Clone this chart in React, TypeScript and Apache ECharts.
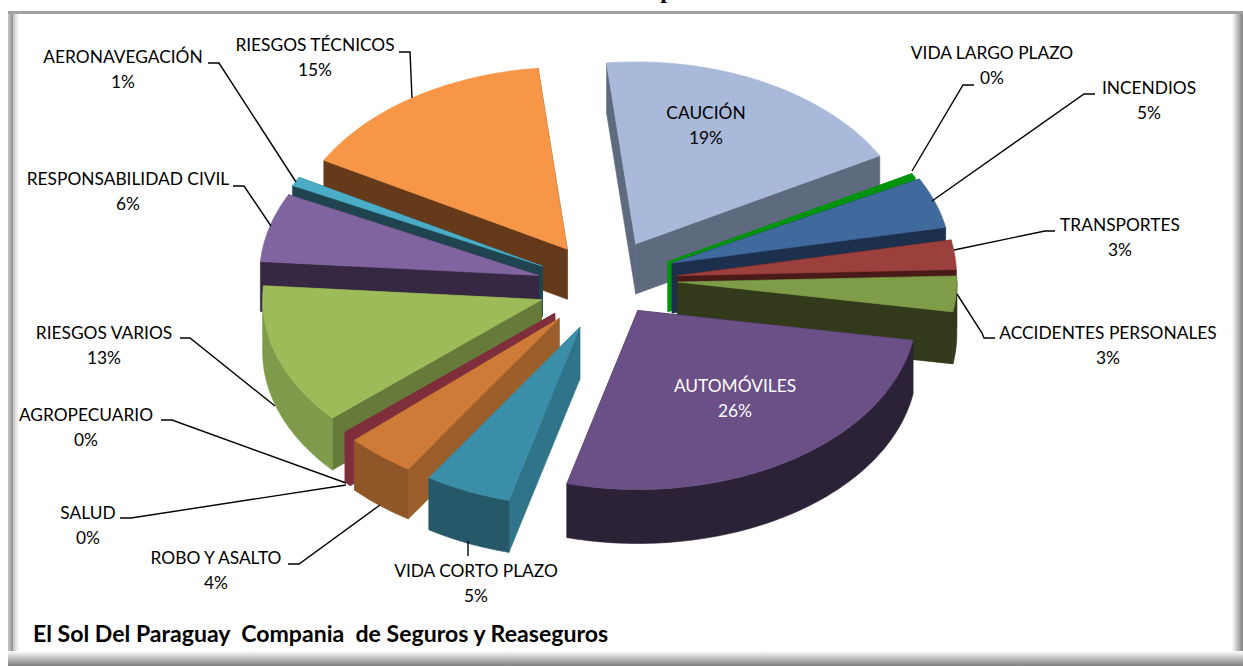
import React, { useEffect, useRef } from "react";
import * as echarts from "echarts";

const categories = [
  "CAUCIÓN", "VIDA LARGO PLAZO", "INCENDIOS", "TRANSPORTES", "ACCIDENTES PERSONALES",
  "AUTOMÓVILES", "VIDA CORTO PLAZO", "ROBO Y ASALTO", "SALUD", "AGROPECUARIO",
  "RIESGOS VARIOS", "RESPONSABILIDAD CIVIL", "AERONAVEGACIÓN", "RIESGOS TÉCNICOS",
];
const shares = [18.6, 0.4, 4.5, 2.6, 3.2, 26.4, 5, 4, 0.2, 0.2, 12.7, 6.1, 0.8, 15.2];

const topColors = ["#A9B9D9", "#00930C", "#40699D", "#9C403D", "#7F9C49", "#6A5086", "#3A8EA7", "#CF7A37", "#7F2F3B", "#7F2F3B", "#9DBC59", "#8064A0", "#4AACC6", "#F79646"];
const sideColors = ["#5E6A7E", "#00930C", "#1C2F4C", "#4A1A19", "#33391B", "#2C2238", "#2F7489", "#9C5F2B", "#7F2F3B", "#7F2F3B", "#667B39", "#362842", "#1F4450", "#643A1A"];
const outerColors = ["#5E6A7E", "#00930C", "#1C2F4C", "#4A1A19", "#33391B", "#2C2238", "#25596A", "#8F5628", "#7F2F3B", "#7F2F3B", "#7E9A4A", "#362842", "#1F4450", "#643A1A"];
const explodes = [60, 68, 68, 70, 70, 55, 70, 76, 72, 72, 70, 72, 74, 74];
const lifts = [2, 6, 1, 4, 2, 3, 8, 3, 5, 5, 8, 11, 12, 13];
const depths = [50, 50, 50, 50, 52, 54, 52, 50, 50, 50, 52, 50, 50, 50];

const labelColors: Record<string, string> = { "AUTOMÓVILES": "#FFFFFF" };
const labelSpots: [number, number][] = [
  [706, 125], [992, 65], [1149, 100], [1120, 237], [1108, 345], [735, 398], [476, 583],
  [216, 570], [88, 525], [86, 427], [104, 345], [128, 191], [123, 69], [315, 57],
];
const leaderLines: number[][][] = [
  [], [[974, 85], [963, 85], [912, 171]], [[1095, 94], [1084, 94], [932, 201]],
  [[1055, 231], [1045, 231], [954, 250]], [[957, 294], [982, 333], [984, 338], [995, 338]], [],
  [[468, 541], [468, 556]], [[288, 564], [299, 564], [380, 505]], [[120, 518], [131, 518], [346, 485]],
  [[161, 420], [172, 420], [346, 483]], [[180, 338], [190, 338], [275, 406]], [[233, 186], [244, 186], [271, 226]],
  [[208, 63], [219, 63], [296, 182]], [[399, 52], [410, 52], [412, 98]],
];

const footerText = "El Sol Del Paraguay  Compania  de Seguros y Reaseguros";
const titleFragment = "p";

const CX = 608, CY = 277, RX = 279, RY_BACK = 182, RY_FRONT = 179, START = -6;
const LABEL_FONT = '17px Lato, "Noto Sans", sans-serif';

const total = shares.reduce((a, b) => a + b, 0);
const rad = (deg: number) => (deg * Math.PI) / 180;
const arcPoint = (ax: number, ay: number, deg: number, drop = 0): number[] => {
  const c = Math.cos(rad(deg));
  return [ax + RX * Math.sin(rad(deg)), ay - (c < 0 ? RY_FRONT : RY_BACK) * c + drop];
};

const sliceAngles = shares.map((_, i) => {
  const before = shares.slice(0, i).reduce((a, b) => a + b, 0);
  return [START + (before / total) * 360, START + ((before + shares[i]) / total) * 360];
});

const paintOrder = categories
  .map((_, i) => i)
  .sort((a, b) => {
    const m = (k: number) => -Math.cos(rad((sliceAngles[k][0] + sliceAngles[k][1]) / 2));
    return m(a) - m(b);
  });

function renderSlice(_: any, api: any) {
  const i = api.value(0);
  const [a0, a1] = sliceAngles[i];
  const mid = rad((a0 + a1) / 2);
  const ax = CX + explodes[i] * Math.sin(mid);
  const ay = CY - explodes[i] * Math.cos(mid) * 0.66 + lifts[i];
  const d = depths[i];
  const children: any[] = [];
  const poly = (points: number[][], fill: string) =>
    children.push({ type: "polygon", shape: { points }, style: { fill, stroke: fill, lineWidth: 0.6 } });

  [a0, a1].forEach((a) => {
    const t = arcPoint(ax, ay, a);
    poly([[ax, ay], t, [t[0], t[1] + d], [ax, ay + d]], sideColors[i]);
  });

  const from = Math.max(a0, 90);
  const to = Math.min(a1, 270);
  if (to > from) {
    const upper: number[][] = [];
    const lower: number[][] = [];
    for (let a = from; a < to; a += 1) {
      upper.push(arcPoint(ax, ay, a));
      lower.unshift(arcPoint(ax, ay, a, d));
    }
    upper.push(arcPoint(ax, ay, to));
    lower.unshift(arcPoint(ax, ay, to, d));
    poly([...upper, ...lower], outerColors[i]);
  }

  const top: number[][] = [[ax, ay]];
  for (let a = a0; a < a1; a += 1) top.push(arcPoint(ax, ay, a));
  top.push(arcPoint(ax, ay, a1));
  poly(top, topColors[i]);

  return { type: "group", children };
}

function shade(x: number, y: number, width: number, height: number, horizontal: boolean, from: string, to: string) {
  return {
    type: "rect",
    z: 0,
    shape: { x, y, width, height },
    style: {
      fill: new echarts.graphic.LinearGradient(0, 0, horizontal ? 1 : 0, horizontal ? 0 : 1, [
        { offset: 0, color: from },
        { offset: 1, color: to },
      ]),
    },
  };
}

export default function App() {
  const ref = useRef<HTMLDivElement>(null);
  useEffect(() => {
    document.body.style.margin = "0";
    const chart = echarts.init(ref.current!, undefined, { renderer: "svg" });
    const labels = categories.map((name, i) => ({
      type: "text",
      z: 20,
      x: labelSpots[i][0],
      y: labelSpots[i][1],
      scaleX: 1.02,
      style: {
        text: `${name}\n${Math.round(shares[i])}%`,
        font: LABEL_FONT,
        lineHeight: 25,
        align: "center",
        verticalAlign: "middle",
        fill: labelColors[name] ?? "#000000",
      },
    }));
    const leaders = leaderLines
      .filter((l) => l.length)
      .map((points) => ({
        type: "polyline",
        z: 15,
        shape: { points },
        style: { stroke: "#000000", lineWidth: 1.4, fill: "none" },
      }));
    chart.setOption({
      animation: false,
      backgroundColor: "#FFFFFF",
      graphic: [
        shade(8, 12, 5, 650, true, "#C8C8C8", "#8E8E8E"),
        shade(13, 14, 6, 640, true, "#C4C4C4", "#FFFFFF"),
        { type: "rect", z: 0, shape: { x: 8, y: 11, width: 1235, height: 3 }, style: { fill: "#A2A2A2" } },
        shade(1232, 14, 11, 652, true, "#FFFFFF", "#7E7E7E"),
        shade(8, 651, 1235, 15, false, "#FFFFFF", "#7E7E7E"),
        { type: "text", z: 20, x: 667, y: -10, style: { text: titleFragment, font: 'bold 24px "Liberation Serif", serif', align: "center", verticalAlign: "middle", fill: "#000000" } },
        ...leaders,
        ...labels,
        { type: "text", z: 20, x: 33, y: 634, scaleX: 1.05, style: { text: footerText, font: 'bold 22px Lato, "Noto Sans", sans-serif', align: "left", verticalAlign: "middle", fill: "#000000" } },
      ],
      series: [
        {
          type: "custom",
          coordinateSystem: "none",
          renderItem: renderSlice,
          silent: true,
          z: 5,
          data: paintOrder.map((i) => ({ name: categories[i], value: [i, shares[i]] })),
        },
      ],
    });
    return () => chart.dispose();
  }, []);
  return <div ref={ref} style={{ position: "absolute", left: 0, top: 0, width: 1243, height: 666 }} />;
}
